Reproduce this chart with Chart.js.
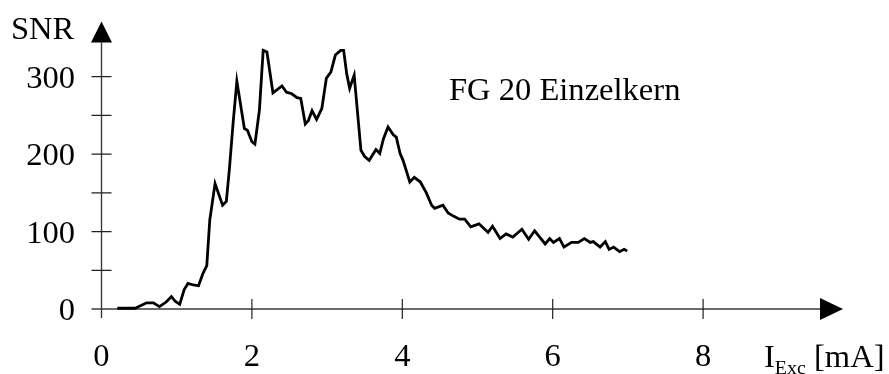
<!DOCTYPE html>
<html>
<head>
<meta charset="utf-8">
<script src="https://cdn.jsdelivr.net/npm/chart.js@4.4.1/dist/chart.umd.min.js"></script>
<style>
  html, body { margin: 0; padding: 0; background: #fff; }
  #wrap { width: 889px; height: 374px; position: relative; }
</style>
</head>
<body>
<div id="wrap"><canvas id="c"></canvas></div>
<script>
// Excitation current in mA and measured signal-to-noise ratio
const excCurrent = [
  0.21, 0.45, 0.49, 0.60, 0.69, 0.77, 0.86, 0.93, 0.98, 1.04,
  1.10, 1.15, 1.22, 1.29, 1.35, 1.40, 1.44, 1.51, 1.61, 1.66,
  1.70, 1.75, 1.80, 1.90, 1.94, 2.00, 2.04, 2.10, 2.15, 2.20,
  2.28, 2.40, 2.46, 2.53, 2.60, 2.65, 2.71, 2.75, 2.80, 2.86,
  2.93, 2.99, 3.05, 3.11, 3.18, 3.22, 3.26, 3.30, 3.36, 3.45,
  3.50, 3.56, 3.65, 3.70, 3.75, 3.81, 3.88, 3.92, 3.97, 4.01,
  4.10, 4.16, 4.24, 4.32, 4.39, 4.43, 4.54, 4.61, 4.68, 4.76,
  4.83, 4.91, 5.02, 5.14, 5.20, 5.30, 5.38, 5.47, 5.59, 5.68,
  5.76, 5.90, 5.96, 6.01, 6.09, 6.15, 6.25, 6.34, 6.42, 6.50,
  6.54, 6.63, 6.70, 6.75, 6.81, 6.89, 6.95, 6.99
];
const snrValues = [
  1, 1, 3, 8, 8, 3, 9, 16, 10, 6,
  25, 33, 31, 30, 46, 56, 115, 162, 134, 139,
  180, 240, 294, 233, 231, 216, 213, 257, 334, 332,
  279, 288, 280, 278, 273, 272, 239, 243, 256, 245,
  259, 298, 306, 328, 334, 334, 304, 285, 302, 205,
  197, 192, 206, 201, 220, 235, 225, 222, 201, 192,
  164, 170, 164, 150, 134, 130, 134, 124, 120, 116,
  116, 106, 110, 99, 107, 91, 97, 93, 103, 90,
  101, 84, 91, 86, 91, 80, 86, 86, 91, 86,
  87, 80, 87, 77, 80, 74, 77, 75
];

const xTickValues = [0, 2, 4, 6, 8];
const yTickValues = [0, 100, 200, 300];
const yMinorTicks = [50, 150, 250];
const yAxisTitle = 'SNR';
const xAxisSymbol = 'I';
const xAxisSubscript = 'Exc';
const xAxisUnit = ' [mA]';
const curveLabel = 'FG 20 Einzelkern';

const FONT = '31px "Liberation Serif", "Times New Roman", serif';
const SUB_FONT = '19px "Liberation Serif", "Times New Roman", serif';
const TEXT_STRETCH = 1.05;

const points = excCurrent.map((x, i) => ({ x, y: snrValues[i] }));

// Draws text slightly widened horizontally; returns the drawn width
function wideText(ctx, str, x, y, align) {
  const w = ctx.measureText(str).width * TEXT_STRETCH;
  let left = x;
  if (align === 'right') left = x - w;
  else if (align === 'center') left = x - w / 2;
  ctx.save();
  ctx.translate(left, y);
  ctx.scale(TEXT_STRETCH, 1);
  ctx.textAlign = 'left';
  ctx.fillText(str, 0, 0);
  ctx.restore();
  return w;
}

// Hand-drawn axes: arrows, crossing tick marks and serif labels
const arrowAxes = {
  id: 'arrowAxes',
  beforeDatasetsDraw(chart) {
    const { ctx, scales: { x, y } } = chart;
    const x0 = x.getPixelForValue(0);
    const y0 = y.getPixelForValue(0);
    ctx.save();
    ctx.strokeStyle = '#3a3a3a';
    ctx.fillStyle = '#000';
    ctx.lineWidth = 1.4;

    // horizontal axis with arrow head
    const xEnd = 820;
    ctx.beginPath();
    ctx.moveTo(x0 - 10, y0);
    ctx.lineTo(xEnd, y0);
    ctx.stroke();
    ctx.beginPath();
    ctx.moveTo(xEnd, y0 - 11);
    ctx.lineTo(843, y0);
    ctx.lineTo(xEnd, y0 + 11);
    ctx.closePath();
    ctx.fill();

    // vertical axis with arrow head
    const yEnd = 42.5;
    ctx.beginPath();
    ctx.moveTo(x0, y0 + 9);
    ctx.lineTo(x0, yEnd);
    ctx.stroke();
    ctx.beginPath();
    ctx.moveTo(x0 - 10.5, yEnd);
    ctx.lineTo(x0, 21.5);
    ctx.lineTo(x0 + 10.5, yEnd);
    ctx.closePath();
    ctx.fill();

    // tick marks
    ctx.strokeStyle = '#222';
    ctx.lineWidth = 1.2;
    ctx.beginPath();
    yTickValues.concat(yMinorTicks).forEach(v => {
      if (v === 0) return;
      const py = y.getPixelForValue(v);
      ctx.moveTo(x0 - 10, py);
      ctx.lineTo(x0 + 10, py);
    });
    xTickValues.forEach(v => {
      if (v === 0) return;
      const px = x.getPixelForValue(v);
      ctx.moveTo(px, y0 - 10);
      ctx.lineTo(px, y0 + 10);
    });
    ctx.stroke();
    ctx.restore();
  },
  afterDraw(chart) {
    const { ctx, scales: { x, y } } = chart;
    ctx.save();
    ctx.fillStyle = '#000';
    ctx.font = FONT;
    ctx.textBaseline = 'alphabetic';

    yTickValues.forEach(v => {
      wideText(ctx, String(v), 75, y.getPixelForValue(v) + 11, 'right');
    });

    xTickValues.forEach(v => {
      wideText(ctx, String(v), x.getPixelForValue(v), 366, 'center');
    });

    wideText(ctx, yAxisTitle, 11, 38.5, 'left');
    wideText(ctx, curveLabel, 449, 99.5, 'left');

    // x axis title with subscript
    let tx = 764;
    tx += wideText(ctx, xAxisSymbol, tx, 367, 'left');
    ctx.font = SUB_FONT;
    tx += wideText(ctx, xAxisSubscript, tx, 374, 'left');
    ctx.font = FONT;
    wideText(ctx, xAxisUnit, tx, 367, 'left');
    ctx.restore();
  }
};

new Chart(document.getElementById('c'), {
  type: 'scatter',
  data: {
    datasets: [{
      data: points,
      showLine: true,
      borderColor: '#000',
      borderWidth: 2.8,
      pointRadius: 0,
      tension: 0,
      clip: false
    }]
  },
  options: {
    responsive: true,
    maintainAspectRatio: false,
    animation: false,
    layout: { padding: { left: 101.5, right: 35.5, top: 38, bottom: 65 } },
    scales: {
      x: { type: 'linear', min: 0, max: 10, display: false },
      y: { type: 'linear', min: 0, max: 350, display: false }
    },
    plugins: { legend: { display: false }, tooltip: { enabled: false } }
  },
  plugins: [arrowAxes]
});
</script>
</body>
</html>
